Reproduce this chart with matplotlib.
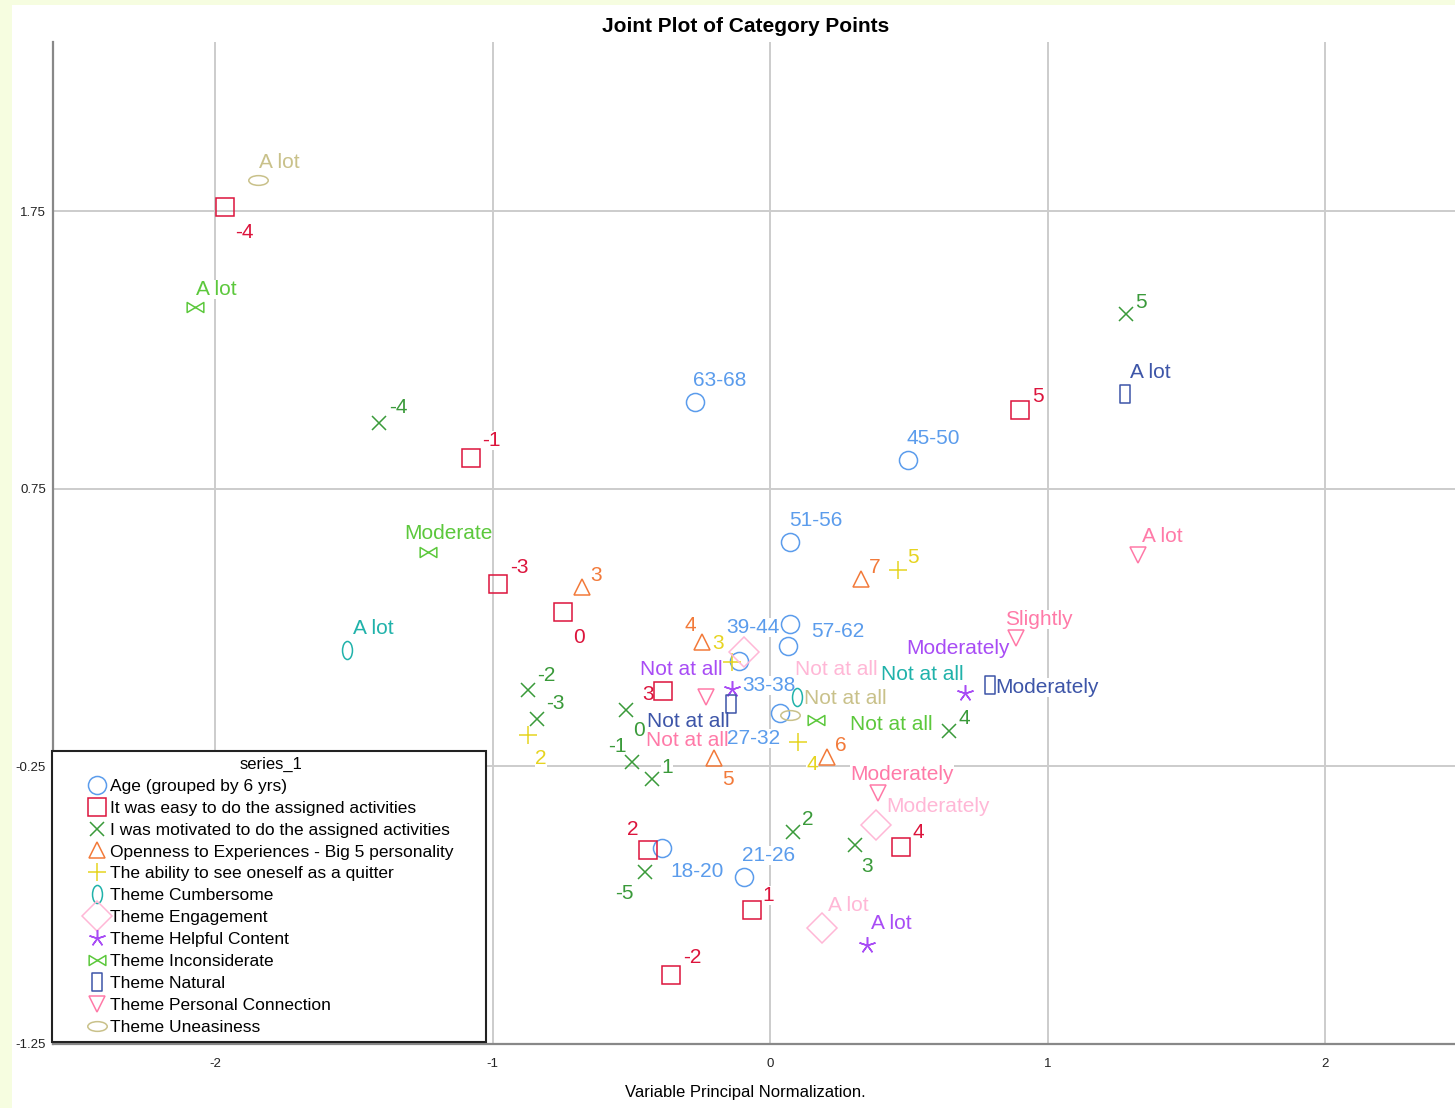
import matplotlib
matplotlib.use("Agg")
from matplotlib import pyplot as plt
from matplotlib.lines import Line2D
from matplotlib.patches import Rectangle
from matplotlib.path import Path
from matplotlib.transforms import Affine2D

plt.rcParams['font.family'] = ['Liberation Sans', 'DejaVu Sans']
plt.rcParams['axes.unicode_minus'] = False

# category points, one block per variable
age_cats = ["63-68", "45-50", "51-56", "39-44", "57-62", "33-38", "27-32", "18-20", "21-26"]
age_x = [-0.270, 0.497, 0.072, 0.072, 0.065, -0.112, 0.036, -0.389, -0.094]
age_y = [1.063, 0.854, 0.559, 0.264, 0.185, 0.131, -0.057, -0.543, -0.647]

easy_cats = ["-4", "-1", "-3", "0", "3", "5", "4", "2", "1", "-2"]
easy_x = [-1.964, -1.077, -0.980, -0.746, -0.386, 0.901, 0.472, -0.440, -0.065, -0.357]
easy_y = [1.765, 0.862, 0.408, 0.307, 0.023, 1.034, -0.539, -0.550, -0.766, -1.000]

motiv_cats = ["5", "-4", "-2", "-3", "0", "-1", "1", "4", "2", "3", "-5"]
motiv_x = [1.283, -1.409, -0.872, -0.840, -0.519, -0.497, -0.425, 0.645, 0.083, 0.306, -0.450]
motiv_y = [1.380, 0.988, 0.026, -0.078, -0.046, -0.233, -0.294, -0.121, -0.485, -0.532, -0.629]

open_cats = ["3", "7", "4", "5", "6"]
open_x = [-0.677, 0.328, -0.245, -0.202, 0.205]
open_y = [0.397, 0.426, 0.199, -0.219, -0.215]

quit_cats = ["5", "3", "2", "4"]
quit_x = [0.461, -0.137, -0.872, 0.101]
quit_y = [0.458, 0.127, -0.136, -0.161]

cumb_cats = ["A lot", "Not at all"]
cumb_x = [-1.524, 0.097]
cumb_y = [0.170, 0.001]

engage_cats = ["Not at all", "Moderately", "A lot"]
engage_x = [-0.094, 0.382, 0.187]
engage_y = [0.163, -0.460, -0.831]

helpful_cats = ["Not at all", "Moderately", "A lot"]
helpful_x = [-0.137, 0.703, 0.350]
helpful_y = [0.030, 0.015, -0.892]

incons_cats = ["A lot", "Moderate", "Not at all"]
incons_x = [-2.072, -1.232, 0.166]
incons_y = [1.405, 0.523, -0.082]

natural_cats = ["A lot", "Moderately", "Not at all"]
natural_x = [1.279, 0.793, -0.141]
natural_y = [1.092, 0.044, -0.024]

personal_cats = ["A lot", "Slightly", "Not at all", "Moderately"]
personal_x = [1.326, 0.886, -0.231, 0.389]
personal_y = [0.512, 0.213, 0.001, -0.345]

uneasy_cats = ["A lot", "Not at all"]
uneasy_x = [-1.845, 0.072]
uneasy_y = [1.863, -0.064]

series_names = ["Age (grouped by 6 yrs)",
                "It was easy to do the assigned activities",
                "I was motivated to do the assigned activities",
                "Openness to Experiences - Big 5 personality",
                "The ability to see oneself as a quitter",
                "Theme Cumbersome",
                "Theme Engagement",
                "Theme Helpful Content",
                "Theme Inconsiderate",
                "Theme Natural",
                "Theme Personal Connection",
                "Theme Uneasiness"]

# label placement, pixel offsets of the label centre from its marker
label_offsets = [
    [(25, 21), (25, 21), (26, 21), (-37, -4), (50, 14), (30, -25), (-27, -26), (35, -24), (25, 21)],
    [(19, -26), (20, 17), (21, 16), (16, -26), (-15, -4), (18, 13), (17, 14), (-15, 20), (16, 14), (21, 17)],
    [(15, 11), (19, 15), (18, 14), (18, 15), (13, -21), (-15, 15), (15, 11), (15, 12), (15, 12), (12, -22), (-21, -22)],
    [(14, 11), (14, 11), (-12, 16), (14, -22), (14, 11)],
    [(15, 12), (-14, 18), (13, -24), (14, -23)],
    [(26, 21), (125, 22)],
    [(92, -18), (62, 18), (26, 22)],
    [(-51, 19), (-7, 44), (24, 21)],
    [(21, 17), (20, 18), (75, -5)],
    [(25, 21), (57, -3), (-43, -18)],
    [(24, 18), (23, 18), (-19, -44), (24, 18)],
    [(21, 17), (55, 16)],
]

# custom marker shapes
circ = Path.unit_circle()
tall_ellipse = circ.transformed(Affine2D().scale(0.55, 1.0))
wide_ellipse = circ.transformed(Affine2D().scale(1.0, 0.5))
bowtie = Path([(-1, -0.6), (-1, 0.6), (1, -0.6), (1, 0.6), (-1, -0.6)],
              [Path.MOVETO, Path.LINETO, Path.LINETO, Path.LINETO, Path.CLOSEPOLY])
thin_rect = Path([(-0.5, -1), (0.5, -1), (0.5, 1), (-0.5, 1), (-0.5, -1)],
                 [Path.MOVETO, Path.LINETO, Path.LINETO, Path.LINETO, Path.CLOSEPOLY])

styles = [
    ('o', 13, '#5b9cec'),
    ('s', 13, '#dc143c'),
    ('x', 9.5, '#3a9a3a'),
    ('^', 11, '#f27a3a'),
    ('+', 13, '#e6d420'),
    (tall_ellipse, 13, '#20b2aa'),
    ('D', 15.5, '#ffb7d6'),
    ((5, 2, 0), 12, '#a84cf5'),
    (bowtie, 12, '#5cc83c'),
    (thin_rect, 13, '#3d55a8'),
    ('v', 11, '#ff7aa8'),
    (wide_ellipse, 14, '#c9c18a'),
]

all_x = [age_x, easy_x, motiv_x, open_x, quit_x, cumb_x, engage_x, helpful_x, incons_x, natural_x, personal_x, uneasy_x]
all_y = [age_y, easy_y, motiv_y, open_y, quit_y, cumb_y, engage_y, helpful_y, incons_y, natural_y, personal_y, uneasy_y]
all_cats = [age_cats, easy_cats, motiv_cats, open_cats, quit_cats, cumb_cats, engage_cats, helpful_cats,
            incons_cats, natural_cats, personal_cats, uneasy_cats]

W, H = 1455, 1108
fig = plt.figure(figsize=(W / 100, H / 100), dpi=100)
fig.patch.set_facecolor('#f6fde0')
fig.patches.append(Rectangle((12 / W, 0), 1 - 12 / W, 1 - 5 / H, transform=fig.transFigure,
                             facecolor='white', edgecolor='none', zorder=-5))

ax = fig.add_axes([53 / W, 1 - 1044 / H, 1 - 53 / W, (1044 - 42) / H])
ax.set_facecolor('white')
ax.set_xlim(-2.584, 2.468)
ax.set_ylim(-1.25, 2.359)
ax.set_xticks([-2, -1, 0, 1, 2])
ax.set_yticks([-1.25, -0.25, 0.75, 1.75])
ax.set_yticklabels(["-1.25", "-0.25", "0.75", "1.75"])
ax.tick_params(length=0, labelsize=9.5, colors='#222222')
ax.tick_params(axis='x', pad=10)
ax.tick_params(axis='y', pad=5)
ax.grid(True, color='#cccccc', linewidth=1.4)
ax.set_axisbelow(True)
for side in ['top', 'right']:
    ax.spines[side].set_visible(False)
for side in ['left', 'bottom']:
    ax.spines[side].set_color('#888888')
    ax.spines[side].set_linewidth(1.6)

handles = []
for i, (mk, ms, col) in enumerate(styles):
    ax.plot(all_x[i], all_y[i], linestyle='none', marker=mk, markersize=ms,
            markerfacecolor='none', markeredgecolor=col, markeredgewidth=1.1, zorder=4)
    for cat, px, py, off in zip(all_cats[i], all_x[i], all_y[i], label_offsets[i]):
        ax.annotate(cat, (px, py), xytext=off, textcoords='offset pixels',
                    ha='center', va='center', fontsize=15, color=col, zorder=3,
                    bbox=dict(facecolor='white', edgecolor='none', pad=0))
    handles.append(Line2D([], [], linestyle='none', marker=mk, markersize=ms,
                          markerfacecolor='none', markeredgecolor=col, markeredgewidth=1.1,
                          label=series_names[i]))

fig.patches.append(Rectangle((52 / W, 1 - 1042 / H), 434 / W, 291 / H, transform=fig.transFigure,
                             facecolor='white', edgecolor='#222222', linewidth=1.5, zorder=5))
leg = fig.legend(handles=handles, title="series_1", loc='upper left',
                 bbox_to_anchor=(80 / W, 1 - 748 / H), bbox_transform=fig.transFigure,
                 frameon=False, fontsize=12.5, title_fontsize=12, borderpad=0,
                 handlelength=1.0, handletextpad=0.2, labelspacing=0.39)
leg.set_zorder(6)

fig.text(746 / W, 1 - 26 / H, "Joint Plot of Category Points", ha='center', va='center',
         fontsize=15, fontweight='bold')
fig.text(745 / W, 1 - 1093 / H, "Variable Principal Normalization.", ha='center', va='center',
         fontsize=12)

fig.savefig("out.png", dpi=100, facecolor=fig.get_facecolor())
